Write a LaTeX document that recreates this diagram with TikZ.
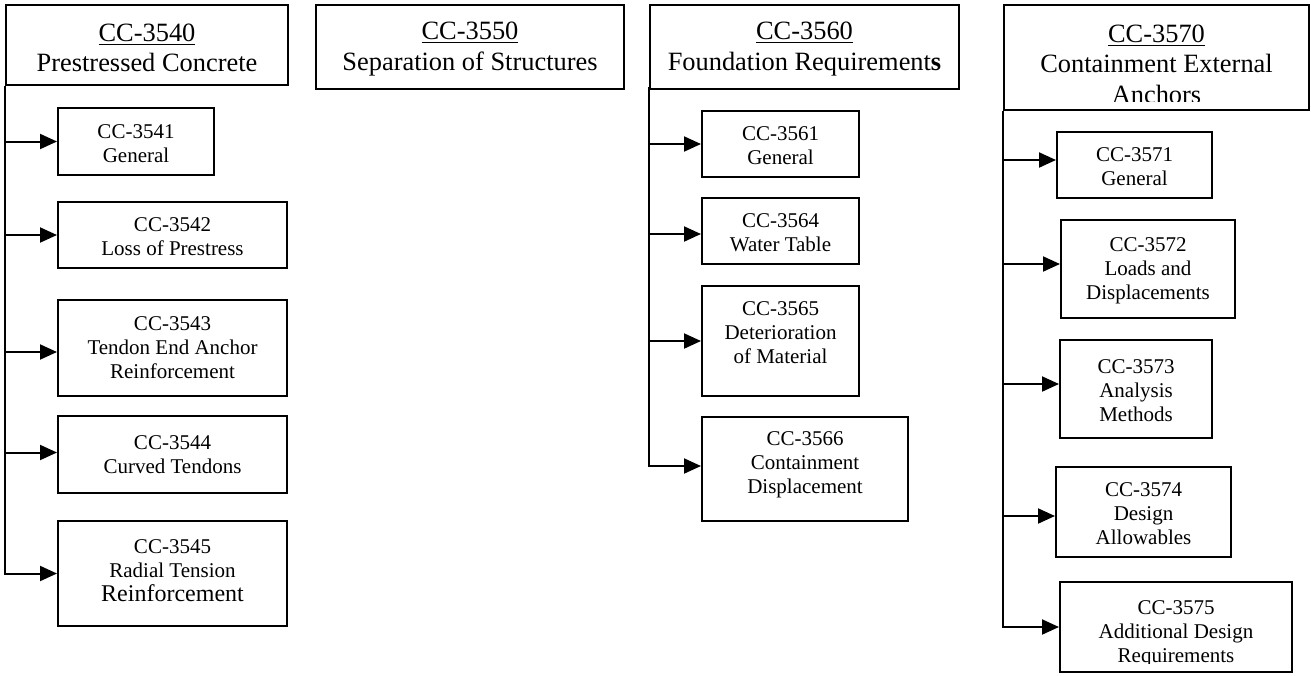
\documentclass[tikz,border=0pt]{standalone}
\usepackage{fontspec}
\setmainfont{Liberation Serif}
\usetikzlibrary{arrows.meta,fit}
\begin{document}
\begin{tikzpicture}[x=0.5pt,y=-0.5pt,
  box/.style={draw, line width=1pt, inner sep=0pt},
  hfont/.style={font=\fontsize{13.2}{15.3}\selectfont},
  sfont/.style={font=\fontsize{10.5}{12}\selectfont},
  htxt/.style={hfont, align=center, inner sep=0pt},
  stxt/.style={sfont, align=center, inner sep=0pt},
  arr/.style={line width=1pt, -{Triangle[length=8.5pt,width=7.5pt]}}]
\useasboundingbox (0,0) rectangle (1311,675);

% ---------- column 1
\node[box, fit={(6,5)(288,85)}] (h1) {};
\node[htxt, yshift=-1.5pt] (h1t) at (h1.center) {\underline{CC-3540}\\Prestressed Concrete};
\node[box, fit={(58,108)(214,175)}] (c11) {};
\node[stxt, yshift=-1pt] (c11t) at (c11.center) {CC-3541\\General};
\node[box, fit={(58,202)(287,268)}] (c12) {};
\node[stxt, yshift=-1pt] (c12t) at (c12.center) {CC-3542\\Loss of Prestress};
\node[box, fit={(58,300)(287,396)}] (c13) {};
\node[stxt] (c13t) at (c13.center) {CC-3543\\Tendon End Anchor\\Reinforcement};
\node[box, fit={(58,416)(287,493)}] (c14) {};
\node[stxt] (c14t) at (c14.center) {CC-3544\\Curved Tendons};
\node[box, fit={(58,521)(287,626)}] (c15) {};
\node[stxt, yshift=1.5pt] (c15t) at (c15.center) {CC-3545\\Radial Tension\\{\fontsize{12}{13}\selectfont Reinforcement}};

\draw[arr] (h1.south west) |- (c15.west);
\draw[arr] (h1.south west |- c11.west) -- (c11.west);
\draw[arr] (h1.south west |- c12.west) -- (c12.west);
\draw[arr] ([yshift=-2pt]h1.south west |- c13.west) -- ([yshift=-2pt]c13.west);
\draw[arr] ([yshift=1pt]h1.south west |- c14.west) -- ([yshift=1pt]c14.west);

% ---------- column 2
\node[box, fit={(316,5)(624,89)}] (h2) {};
\node[htxt, yshift=-1pt] (h2t) at (h2.center) {\underline{CC-3550}\\Separation of Structures};

% ---------- column 3
\node[box, fit={(650,5)(959,89)}] (h3) {};
\node[htxt, yshift=-1pt] (h3t) at (h3.center) {\underline{CC-3560}\\Foundation Requirement\textbf{s}};
\node[box, fit={(702,111)(859,177)}] (c31) {};
\node[stxt, yshift=-1pt] (c31t) at (c31.center) {CC-3561\\General};
\node[box, fit={(702,198)(859,264)}] (c32) {};
\node[stxt, yshift=-1pt] (c32t) at (c32.center) {CC-3564\\Water Table};
\node[box, fit={(702,286)(859,396)}] (c33) {};
\node[stxt, yshift=4pt] (c33t) at (c33.center) {CC-3565\\Deterioration\\of Material};
\node[box, fit={(702,417)(908,521)}] (c34) {};
\node[stxt, yshift=2pt] (c34t) at (c34.center) {CC-3566\\Containment\\Displacement};

\draw[arr] ([yshift=1.5pt]h3.south west) |- ([yshift=1.5pt]c34.west);
\draw[arr] (h3.south west |- c31.west) -- (c31.west);
\draw[arr] ([yshift=-1.5pt]h3.south west |- c32.west) -- ([yshift=-1.5pt]c32.west);
\draw[arr] (h3.south west |- c33.west) -- (c33.west);

% ---------- column 4
\node[box, fit={(1004,5)(1309,110)}] (h4) {};
\begin{scope}
  \clip (1004,5) rectangle (1309,101);
  \node[htxt] (h4t) at (1156.5,64)
    {\underline{CC-3570}\\Containment External\\Anchors};
\end{scope}
\node[box, fit={(1057,132)(1212,198)}] (c41) {};
\node[stxt, yshift=-1pt] (c41t) at (c41.center) {CC-3571\\General};
\node[box, fit={(1061,220)(1235,318)}] (c42) {};
\node[stxt, yshift=-1pt] (c42t) at (c42.center) {CC-3572\\Loads and\\Displacements};
\node[box, fit={(1060,340)(1212,438)}] (c43) {};
\node[stxt, yshift=-1pt] (c43t) at (c43.center) {CC-3573\\Analysis\\Methods};
\node[box, fit={(1056,467)(1231,557)}] (c44) {};
\node[stxt, yshift=-1pt] (c44t) at (c44.center) {CC-3574\\Design\\Allowables};
\node[box, fit={(1060,582)(1292,672)}] (c45) {};
\begin{scope}
  \clip (1060,582) rectangle (1292,663);
  \node[stxt] (c45t) at (1176,634)
    {CC-3575\\Additional Design\\Requirements};
\end{scope}

\draw[arr] (h4.south west) |- (c45.west);
\draw[arr] ([yshift=2.5pt]h4.south west |- c41.west) -- ([yshift=2.5pt]c41.west);
\draw[arr] ([yshift=2.5pt]h4.south west |- c42.west) -- ([yshift=2.5pt]c42.west);
\draw[arr] ([yshift=2.5pt]h4.south west |- c43.west) -- ([yshift=2.5pt]c43.west);
\draw[arr] ([yshift=-2pt]h4.south west |- c44.west) -- ([yshift=-2pt]c44.west);
\end{tikzpicture}
\end{document}
